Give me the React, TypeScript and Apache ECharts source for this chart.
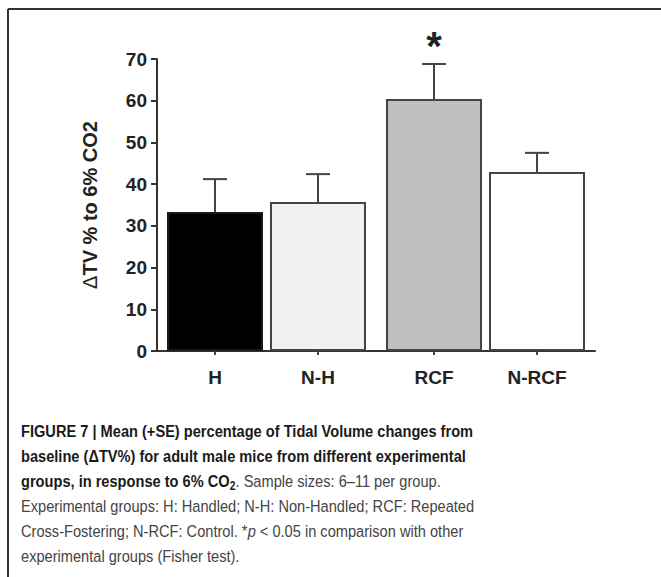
import React, { useEffect, useRef } from "react";
import * as echarts from "echarts";

const categories = ["H", "N-H", "RCF", "N-RCF"];
const means = [33.3, 35.7, 60.4, 42.9];
const errors = [7.9, 6.7, 8.4, 4.6];
const significant = [false, false, true, false];
const fills = ["#000000", "#f1f1f1", "#bfbfbf", "#ffffff"];
const groups = ["G1", "G2"];
const yTicks = { min: 0, max: 70, interval: 10 };

const BAR_W = 96;
const BAR_GAP = 7;
const FONT = "'Liberation Sans', Arial, Helvetica, sans-serif";

export default function App() {
  const ref = useRef<HTMLDivElement>(null);
  useEffect(() => {
    if (!ref.current) return;
    const chart = echarts.init(ref.current, undefined, { renderer: "svg" });

    const barSeries = [0, 1].map((side) => ({
      type: "bar",
      barWidth: BAR_W,
      barGap: (BAR_GAP / BAR_W) * 100 + "%",
      z: 3,
      data: groups.map((_, g) => {
        const i = g * 2 + side;
        return {
          value: means[i],
          name: categories[i],
          itemStyle: {
            color: fills[i],
            borderColor: i === 0 ? "#1a1a1a" : "#444",
            borderWidth: 2,
          },
        };
      }),
      label: {
        show: true,
        position: "bottom",
        distance: 17,
        formatter: (p: any) => p.data.name,
        fontFamily: FONT,
        fontWeight: "bold",
        fontSize: 19,
        color: "#222",
      },
    }));

    const errData = categories.map((_, i) => [
      Math.floor(i / 2),
      means[i],
      errors[i],
      i % 2 === 0 ? -1 : 1,
      significant[i] ? 1 : 0,
    ]);

    const option: any = {
      animation: false,
      backgroundColor: "#ffffff",
      grid: { left: 157, right: 66, top: 59, bottom: 226 },
      xAxis: {
        type: "category",
        data: groups,
        axisLine: { show: true, lineStyle: { color: "#333", width: 2 } },
        axisTick: { show: false },
        axisLabel: { show: false },
        splitLine: { show: false },
      },
      yAxis: {
        type: "value",
        min: yTicks.min,
        max: yTicks.max,
        interval: yTicks.interval,
        name: "{d|Δ}TV % to 6% CO2",
        nameLocation: "middle",
        nameGap: 57,
        nameTextStyle: {
          fontFamily: FONT,
          fontWeight: "bold",
          fontSize: 20,
          color: "#222",
          rich: {
            d: { fontFamily: FONT, fontWeight: "normal", fontSize: 20, color: "#222" },
          },
        },
        axisLine: { show: true, lineStyle: { color: "#333", width: 2 } },
        axisTick: { show: true, length: 6, lineStyle: { color: "#333", width: 2 } },
        axisLabel: {
          fontFamily: FONT,
          fontWeight: "bold",
          fontSize: 19,
          color: "#222",
          margin: 10,
        },
        splitLine: { show: false },
      },
      series: [
        ...barSeries,
        {
          type: "custom",
          z: 4,
          data: errData,
          renderItem: (params: any, api: any) => {
            const cat = api.value(0);
            const mean = api.value(1);
            const se = api.value(2);
            const side = api.value(3);
            const sig = api.value(4);
            const base = api.coord([cat, mean]);
            const top = api.coord([cat, mean + se]);
            const zero = api.coord([cat, 0]);
            const x = base[0] + (side * (BAR_W + BAR_GAP)) / 2;
            const stroke = { stroke: "#444", lineWidth: 2 };
            const children: any[] = [
              { type: "line", shape: { x1: x, y1: base[1], x2: x, y2: top[1] }, style: stroke },
              { type: "line", shape: { x1: x - 12, y1: top[1], x2: x + 12, y2: top[1] }, style: stroke },
              { type: "line", shape: { x1: x, y1: zero[1], x2: x, y2: zero[1] + 4 }, style: stroke },
            ];
            if (sig) {
              children.push({
                type: "text",
                style: {
                  text: "*",
                  x: x,
                  y: top[1] + 2,
                  align: "center",
                  verticalAlign: "bottom",
                  fontFamily: FONT,
                  fontWeight: "bold",
                  fontSize: 40,
                  fill: "#222",
                },
              });
            }
            return { type: "group", children };
          },
        },
      ],
      graphic: [
        { type: "line", shape: { x1: 8, y1: 9, x2: 661, y2: 9 }, style: { stroke: "#333", lineWidth: 2 } },
        { type: "line", shape: { x1: 8, y1: 9, x2: 8, y2: 577 }, style: { stroke: "#333", lineWidth: 2 } },
        {
          type: "text",
          left: 21,
          top: 423,
          scaleX: 0.86,
          style: {
            text:
              "{b|FIGURE 7 | Mean (+SE) percentage of Tidal Volume changes from}\n" +
              "{b|baseline (ΔTV%) for adult male mice from different experimental}\n" +
              "{b|groups, in response to 6% CO}{bs|2}{n|. Sample sizes: 6–11 per group.}\n" +
              "{n|Experimental groups: H: Handled; N-H: Non-Handled; RCF: Repeated}\n" +
              "{n|Cross-Fostering; N-RCF: Control. *}{i|p}{n| < 0.05 in comparison with other}\n" +
              "{n|experimental groups (Fisher test).}",
            rich: {
              b: { fontFamily: FONT, fontWeight: "bold", fontSize: 17, lineHeight: 25, fill: "#1a1a1a" },
              bs: { fontFamily: FONT, fontWeight: "bold", fontSize: 12, lineHeight: 25, fill: "#1a1a1a", padding: [9, 0, 0, 0] },
              n: { fontFamily: FONT, fontSize: 17, lineHeight: 25, fill: "#444" },
              i: { fontFamily: FONT, fontStyle: "italic", fontSize: 17, lineHeight: 25, fill: "#444" },
            },
          },
        },
      ],
    };
    chart.setOption(option);
    return () => chart.dispose();
  }, []);
  return (
    <div
      ref={ref}
      style={{ position: "fixed", left: 0, top: 0, width: 661, height: 577, background: "#fff" }}
    />
  );
}
